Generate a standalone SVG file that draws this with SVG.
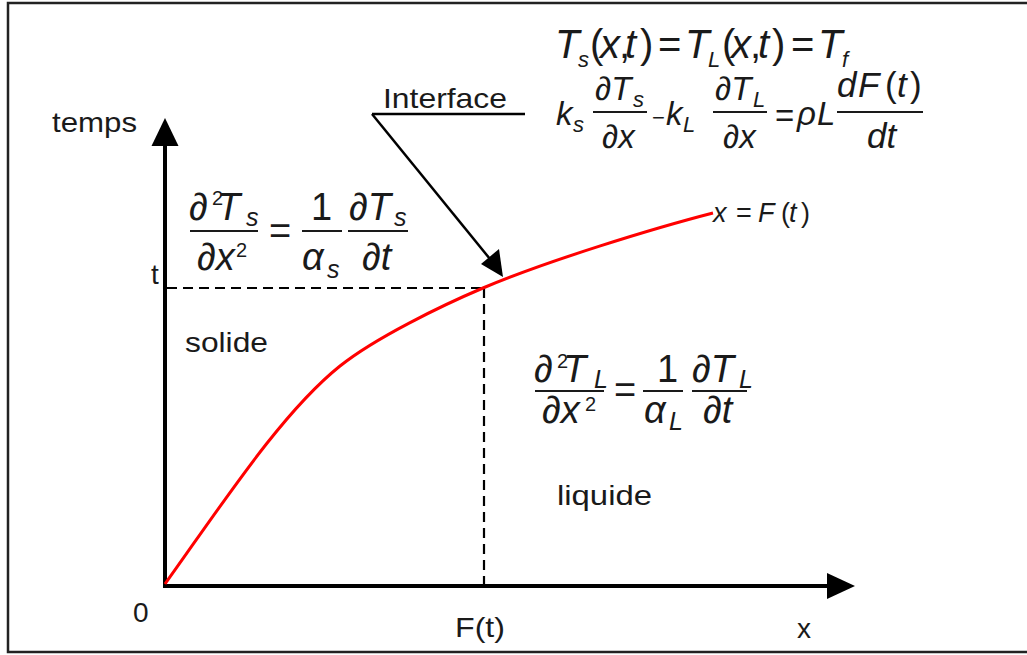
<svg xmlns="http://www.w3.org/2000/svg" width="1027" height="655" viewBox="0 0 1027 655">
<style>
  text { font-family: "Liberation Sans", Arial, sans-serif; fill: #1a1a1a; }
  .lbl { font-size: 28px; }
  .i { font-style: italic; }
  .e1 { font-size: 40px; }
  .e2 { font-size: 33px; }
  .e3 { font-size: 38px; }
  .sub { font-size: 25px; }
  .sub2 { font-size: 22px; }
  .sup { font-size: 20px; }
  .bar { stroke: #1a1a1a; stroke-width: 2; fill: none; }
  .axis { stroke: #000; stroke-width: 4; fill: none; }
  .dash { stroke: #000; stroke-width: 2.2; stroke-dasharray: 10 6; fill: none; }
</style>
<rect x="0" y="0" width="1027" height="655" fill="#fff"/>
<path d="M1040,3 L8,3 L8,652 L1040,652" fill="none" stroke="#222" stroke-width="2.5"/>

<g id="axes">
  <line class="axis" x1="165" y1="587" x2="165" y2="140"/>
  <polygon points="165,118 151.5,146 178.5,146" fill="#000"/>
  <line class="axis" x1="163" y1="586" x2="832" y2="586"/>
  <polygon points="855,586 827,573 827,599" fill="#000"/>
</g>

<g id="guides">
  <line class="dash" x1="167" y1="288" x2="484" y2="288"/>
  <line class="dash" x1="484" y1="288" x2="484" y2="584"/>
</g>

<g id="curve">
  <path d="M165,584 C223,503 281.5,412.9 340,366 C375.1,337.9 441.6,305.6 483,288 C547.4,260.7 654.8,228 713,213" fill="none" stroke="#ff0000" stroke-width="3" stroke-linejoin="round"/>
</g>

<g id="connectors">
  <line x1="372" y1="114" x2="525" y2="114" stroke="#000" stroke-width="2.5"/>
  <line x1="372" y1="114" x2="490" y2="259" stroke="#000" stroke-width="2.5"/>
  <polygon points="503,277 481,264 499,249" fill="#000"/>
</g>

<g id="labels">
  <text class="lbl" x="52" y="132" textLength="85" lengthAdjust="spacingAndGlyphs">temps</text>
  <text class="lbl" x="151" y="284">t</text>
  <text class="lbl" x="185" y="352" textLength="83" lengthAdjust="spacingAndGlyphs">solide</text>
  <text class="lbl" x="557" y="505" textLength="95" lengthAdjust="spacingAndGlyphs">liquide</text>
  <text class="lbl" x="133" y="622">0</text>
  <text class="lbl" x="455" y="637" textLength="50" lengthAdjust="spacingAndGlyphs">F(t)</text>
  <text class="lbl" x="797" y="638">x</text>
  <text class="lbl" x="383" y="108" textLength="124" lengthAdjust="spacingAndGlyphs">Interface</text>
</g>

<g id="curve-label">
  <text style="font-size:27px" y="222"><tspan class="i" x="713">x</tspan><tspan x="736">=</tspan><tspan class="i" x="758">F</tspan><tspan x="781">(</tspan><tspan class="i" x="789">t</tspan><tspan x="801">)</tspan></text>
</g>

<g id="eq-interface-1">
  <text class="e1" y="58"><tspan class="i" x="555">T</tspan><tspan x="590">(</tspan><tspan class="i" x="600">x</tspan><tspan x="619">,</tspan><tspan class="i" x="625">t</tspan><tspan x="640">)</tspan><tspan x="658">=</tspan><tspan class="i" x="685">T</tspan><tspan x="722">(</tspan><tspan class="i" x="731">x</tspan><tspan x="750">,</tspan><tspan class="i" x="758">t</tspan><tspan x="772">)</tspan><tspan x="791">=</tspan><tspan class="i" x="818">T</tspan></text>
  <text class="sub2 i" y="67"><tspan x="578">s</tspan><tspan x="708">L</tspan><tspan x="842">f</tspan></text>
</g>

<g id="eq-interface-2">
  <text class="e2 i" y="125"><tspan x="556">k</tspan><tspan x="666">k</tspan><tspan x="797">ρ</tspan><tspan x="817">L</tspan></text>
  <text class="sub2 i" y="132"><tspan x="573">s</tspan><tspan x="683">L</tspan></text>
  <text style="font-size:22px" x="652" y="125">−</text>
  <text class="e2" x="775" y="127">=</text>
  <text class="e2 i" y="100"><tspan x="595">∂T</tspan><tspan x="715">∂T</tspan></text>
  <text class="sub2 i" y="107"><tspan x="633">s</tspan><tspan x="753">L</tspan></text>
  <text class="e2 i" y="148"><tspan x="602">∂x</tspan><tspan x="723">∂x</tspan></text>
  <line class="bar" x1="593" y1="112" x2="647" y2="112"/>
  <line class="bar" x1="713" y1="112" x2="767" y2="112"/>
  <text style="font-size:35px" y="97"><tspan class="i" x="837">d</tspan><tspan class="i" x="858">F</tspan><tspan x="885">(</tspan><tspan class="i" x="897">t</tspan><tspan x="910">)</tspan></text>
  <line class="bar" x1="837" y1="112" x2="923" y2="112"/>
  <text class="i" style="font-size:35px" x="867" y="148">dt</text>
</g>

<g id="eq-solid">
  <text class="e3 i" y="220"><tspan x="189">∂</tspan><tspan x="217">T</tspan></text>
  <text class="sup" x="212" y="205">2</text>
  <text class="sub i" x="246" y="226">s</text>
  <line class="bar" x1="190" y1="231" x2="258" y2="231"/>
  <text class="e3 i" x="197" y="270">∂x</text>
  <text class="sup" x="236" y="257">2</text>
  <text class="e3" x="269" y="244">=</text>
  <text class="e3" x="311" y="220">1</text>
  <line class="bar" x1="302" y1="231" x2="342" y2="231"/>
  <text class="e3 i" x="302" y="270">α</text>
  <text class="sub i" x="327" y="278">s</text>
  <text class="e3 i" x="349" y="220">∂T</text>
  <text class="sub i" x="394" y="226">s</text>
  <line class="bar" x1="348" y1="231" x2="408" y2="231"/>
  <text class="e3 i" x="362" y="270">∂t</text>
</g>

<g id="eq-liquid">
  <text class="e3 i" y="382"><tspan x="534">∂</tspan><tspan x="563">T</tspan></text>
  <text class="sup" x="557" y="368">2</text>
  <text class="sub i" x="594" y="388">L</text>
  <line class="bar" x1="535" y1="391" x2="604" y2="391"/>
  <text class="e3 i" x="542" y="423">∂x</text>
  <text class="sup" x="585" y="411">2</text>
  <text class="e3" x="614" y="403">=</text>
  <text class="e3" x="657" y="382">1</text>
  <line class="bar" x1="643" y1="391" x2="683" y2="391"/>
  <text class="e3 i" x="644" y="423">α</text>
  <text class="sub i" x="669" y="430">L</text>
  <text class="e3 i" x="692" y="382">∂T</text>
  <text class="sub i" x="739" y="388">L</text>
  <line class="bar" x1="692" y1="391" x2="747" y2="391"/>
  <text class="e3 i" x="703" y="423">∂t</text>
</g>
</svg>
